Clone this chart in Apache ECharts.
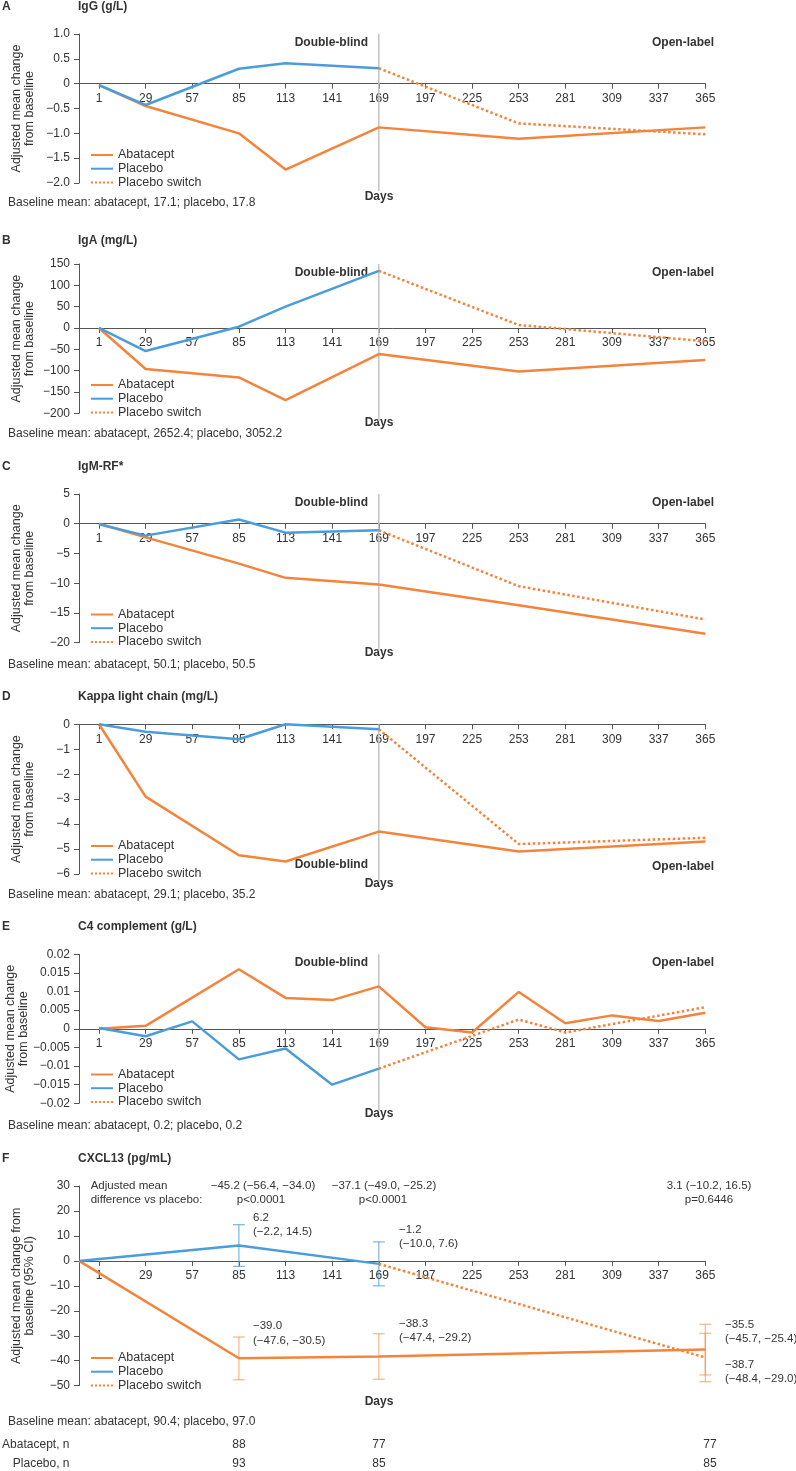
<!DOCTYPE html>
<html><head><meta charset="utf-8">
<script src="https://cdn.jsdelivr.net/npm/echarts@6/dist/echarts.min.js"></script>
<style>html,body{margin:0;padding:0;background:#fff}#c{width:796px;height:1471px}</style>
</head><body><div id="c"></div>
<script>
// ---------------- DATA ----------------
const dayTicks = [1,29,57,85,113,141,169,197,225,253,281,309,337,365];
const seriesNames = ['Abatacept','Placebo','Placebo switch'];

// A  IgG (g/L)
const igG_abatacept = [[1,-0.03],[29,-0.45],[85,-1.0],[113,-1.73],[169,-0.88],[253,-1.11],[365,-0.88]];
const igG_placebo   = [[1,-0.03],[29,-0.43],[85,0.30],[113,0.41],[169,0.31]];
const igG_switch    = [[169,0.31],[253,-0.80],[365,-1.02]];
// B  IgA (mg/L)
const igA_abatacept = [[1,0],[29,-96],[85,-116],[113,-169],[169,-61],[253,-102],[365,-75]];
const igA_placebo   = [[1,0],[29,-54],[85,3],[113,50],[169,134]];
const igA_switch    = [[169,134],[253,7],[365,-31]];
// C  IgM-RF*
const igM_abatacept = [[1,0],[29,-2.3],[85,-6.7],[113,-9.1],[169,-10.2],[253,-13.7],[365,-18.5]];
const igM_placebo   = [[1,-0.1],[29,-2.0],[85,0.7],[113,-1.5],[169,-1.1]];
const igM_switch    = [[169,-1.1],[253,-10.5],[365,-16.1]];
// D  Kappa light chain (mg/L)
const kappa_abatacept = [[1,0],[29,-2.9],[85,-5.25],[113,-5.5],[169,-4.3],[253,-5.1],[365,-4.7]];
const kappa_placebo   = [[1,0],[29,-0.3],[85,-0.6],[113,0],[169,-0.2]];
const kappa_switch    = [[169,-0.2],[253,-4.8],[365,-4.55]];
// E  C4 complement (g/L)
const c4_abatacept = [[1,0],[29,0.0008],[85,0.016],[113,0.0083],[141,0.0077],[169,0.0114],[197,0.0004],[225,-0.001],[253,0.0099],[281,0.0015],[309,0.0036],[337,0.0021],[365,0.0043]];
const c4_placebo   = [[1,0.0002],[29,-0.002],[57,0.002],[85,-0.0082],[113,-0.0053],[141,-0.015],[169,-0.0107]];
const c4_switch    = [[169,-0.0107],[253,0.0025],[281,-0.001],[365,0.0058]];
// F  CXCL13 (pg/mL)  (first point at the axis origin)
const cx_abatacept = [[-11,0],[85,-39.0],[169,-38.3],[365,-35.5]];
const cx_placebo   = [[-11,0],[85,6.2],[169,-1.2]];
const cx_switch    = [[169,-1.2],[365,-38.7]];
// 95% CI  [day, upper, lower]
const cx_abatacept_ci = [[85,-30.5,-47.6],[169,-29.2,-47.4],[365,-25.4,-45.7]];
const cx_placebo_ci   = [[85,14.5,-2.2],[169,7.6,-10.0]];
const cx_switch_ci    = [[365,-29.0,-48.4]];
// n at risk
const nDays = [85,169,365];
const nAbatacept = [88,77,77];
const nPlacebo = [93,85,85];

// y tick labels
const yTicksA = ['−2.0','−1.5','−1.0','−0.5','0','0.5','1.0'];
const yTicksB = ['−200','−150','−100','−50','0','50','100','150'];
const yTicksC = ['−20','−15','−10','−5','0','5'];
const yTicksD = ['−6','−5','−4','−3','−2','−1','0'];
const yTicksE = ['−0.02','−0.015','−0.01','−0.005','0','0.005','0.01','0.015','0.02'];
const yTicksF = ['−50','−40','−30','−20','−10','0','10','20','30'];

// ---------------- STYLE / LAYOUT ----------------
const FONT = '"Liberation Sans", Arial, Helvetica, sans-serif';
const FS = 12;
const TXT = '#333333';
const AX = '#555555';
const ORANGE = '#F4843C';
const BLUE = '#4A9DDA';
const GREYLINE = '#C4C4C4';

const panels = [
  {letter:'A', title:'IgG (g/L)', titleY:7, top:34, height:149, min:-2, max:1, interval:0.5, ticks:yTicksA,
   data:[igG_abatacept, igG_placebo, igG_switch], legendTop:148.5, nameGap:43, yname:'Adjusted mean change\nfrom baseline',
   daysY:197, baseY:203, baseline:'Baseline mean: abatacept, 17.1; placebo, 17.8', phaseY:43, phaseY2:43, vline:true},
  {letter:'B', title:'IgA (mg/L)', titleY:241, top:264, height:149.3, min:-200, max:150, interval:50, ticks:yTicksB,
   data:[igA_abatacept, igA_placebo, igA_switch], legendTop:378.5, nameGap:43, yname:'Adjusted mean change\nfrom baseline',
   daysY:423, baseY:434, baseline:'Baseline mean: abatacept, 2652.4; placebo, 3052.2', phaseY:273, phaseY2:273, vline:true},
  {letter:'C', title:'IgM-RF*', titleY:467, top:494, height:148.7, min:-20, max:5, interval:5, ticks:yTicksC,
   data:[igM_abatacept, igM_placebo, igM_switch], legendTop:608, nameGap:43, yname:'Adjusted mean change\nfrom baseline',
   daysY:653, baseY:665, baseline:'Baseline mean: abatacept, 50.1; placebo, 50.5', phaseY:503, phaseY2:503, vline:true},
  {letter:'D', title:'Kappa light chain (mg/L)', titleY:697, top:724.3, height:149.7, min:-6, max:0, interval:1, ticks:yTicksD,
   data:[kappa_abatacept, kappa_placebo, kappa_switch], legendTop:839.5, nameGap:43, yname:'Adjusted mean change\nfrom baseline',
   daysY:884, baseY:895, baseline:'Baseline mean: abatacept, 29.1; placebo, 35.2', phaseY:865, phaseY2:867, vline:true},
  {letter:'E', title:'C4 complement (g/L)', titleY:927, top:954.3, height:149, min:-0.02, max:0.02, interval:0.005, ticks:yTicksE,
   data:[c4_abatacept, c4_placebo, c4_switch], legendTop:1068, nameGap:49, yname:'Adjusted mean change\nfrom baseline',
   daysY:1114, baseY:1126, baseline:'Baseline mean: abatacept, 0.2; placebo, 0.2', phaseY:963, phaseY2:963, vline:true},
  {letter:'F', title:'CXCL13 (pg/mL)', titleY:1159, top:1186, height:199.7, min:-50, max:30, interval:10, ticks:yTicksF,
   data:[cx_abatacept, cx_placebo, cx_switch], legendTop:1351.5, nameGap:43, yname:'Adjusted mean change from\nbaseline (95% CI)',
   daysY:1402, baseY:1422, baseline:'Baseline mean: abatacept, 90.4; placebo, 97.0', vline:false}
];

const GRID_LEFT = 79, GRID_RIGHT = 796 - 705.3;

const grid = [], xAxis = [], yAxis = [], series = [], legend = [], graphic = [];

function txt(x, y, text, opts) {
  opts = opts || {};
  const align = opts.align || 'left';
  graphic.push({type:'text', x:x, y:y, silent:true, style:{
    text:text, fill:opts.color || TXT,
    font:(opts.bold ? 'bold ' : '') + (opts.size || FS) + 'px ' + FONT,
    textAlign:align, align:align, textVerticalAlign:'middle', verticalAlign:'middle'
  }});
}

panels.forEach((p, i) => {
  grid.push({left:GRID_LEFT, right:GRID_RIGHT, top:p.top, height:p.height, containLabel:false, outerBoundsMode:'none'});
  // x axis drawn on the zero line of the y scale
  const zeroOffset = -p.height * (0 - p.min) / (p.max - p.min);
  xAxis.push({gridIndex:i, type:'value', min:-11, max:365, position:'bottom', offset:zeroOffset,
    axisLine:{show:true, onZero:false, lineStyle:{color:AX, width:1}},
    axisTick:{show:true, customValues:dayTicks, length:5, lineStyle:{color:AX, width:1}},
    axisLabel:{show:true, customValues:dayTicks, margin:9, fontSize:FS, color:TXT, fontFamily:FONT, hideOverlap:false},
    splitLine:{show:false}});
  const ticks = p.ticks, mn = p.min, iv = p.interval;
  yAxis.push({gridIndex:i, type:'value', min:p.min, max:p.max, interval:p.interval,
    axisLine:{show:true, onZero:false, lineStyle:{color:AX, width:1}},
    axisTick:{show:true, length:5, lineStyle:{color:AX, width:1}},
    axisLabel:{show:true, margin:9, fontSize:FS, color:TXT, fontFamily:FONT, hideOverlap:false,
      formatter:(v) => ticks[Math.round((v - mn) / iv)]},
    splitLine:{show:false},
    name:p.yname, nameLocation:'middle', nameGap:p.nameGap, nameRotate:90, nameMoveOverlap:false,
    nameTextStyle:{fontSize:12.5, lineHeight:13, color:TXT, fontFamily:FONT}});

  const colors = [ORANGE, BLUE, ORANGE];
  const types = ['solid','solid','dotted'];
  p.data.forEach((d, k) => {
    series.push({type:'line', name:seriesNames[k], xAxisIndex:i, yAxisIndex:i, data:d,
      symbol:'circle', symbolSize:0, showSymbol:false, clip:false, z:3 + k,
      lineStyle:{color:colors[k], width:2.5, type:types[k]}, itemStyle:{color:colors[k]}});
  });

  if (p.vline) {
    series.push({type:'custom', xAxisIndex:i, yAxisIndex:i, data:[[169, 0]], z:1, silent:true,
      encode:{x:0, y:1},
      renderItem:(params, api) => {
        const pt = api.coord([api.value(0), api.value(1)]);
        const cs = params.coordSys;
        return {type:'line', shape:{x1:pt[0], y1:cs.y, x2:pt[0], y2:cs.y + cs.height + 8},
          style:{stroke:GREYLINE, lineWidth:1.5}};
      }});
    txt(368, p.phaseY, 'Double-blind', {align:'right', bold:true});
    txt(714, p.phaseY2, 'Open-label', {align:'right', bold:true});
  }

  legend.push({data:seriesNames, orient:'vertical', left:90, top:p.legendTop, padding:0,
    itemWidth:22, itemHeight:13, itemGap:0.7, selectedMode:false,
    itemStyle:{opacity:0},
    textStyle:{fontSize:12.5, color:TXT, fontFamily:FONT, lineHeight:13}});

  txt(2, p.titleY, p.letter, {bold:true});
  txt(78, p.titleY, p.title, {bold:true});
  txt(379, p.daysY, 'Days', {align:'center', bold:true});
  txt(8, p.baseY, p.baseline);
});

// error bars (panel F)
function errSeries(data, color) {
  return {type:'custom', xAxisIndex:5, yAxisIndex:5, data:data, z:2, silent:true,
    encode:{x:0, y:[1,2]},
    renderItem:(params, api) => {
      const x = api.value(0);
      const p1 = api.coord([x, api.value(1)]), p2 = api.coord([x, api.value(2)]);
      const w = 6, st = {stroke:color, lineWidth:1.2};
      return {type:'group', children:[
        {type:'line', shape:{x1:p1[0], y1:p1[1], x2:p2[0], y2:p2[1]}, style:st},
        {type:'line', shape:{x1:p1[0]-w, y1:p1[1], x2:p1[0]+w, y2:p1[1]}, style:st},
        {type:'line', shape:{x1:p2[0]-w, y1:p2[1], x2:p2[0]+w, y2:p2[1]}, style:st}
      ]};
    }};
}
series.push(errSeries(cx_placebo_ci, 'rgba(74,157,218,0.75)'));
series.push(errSeries(cx_abatacept_ci, 'rgba(244,132,60,0.6)'));
series.push(errSeries(cx_switch_ci, 'rgba(244,132,60,0.6)'));

// panel F annotations
const AS = 11.5;
txt(90.7, 1186, 'Adjusted mean', {size:AS});
txt(90.7, 1199.5, 'difference vs placebo:', {size:AS});
txt(263, 1186, '−45.2 (−56.4, −34.0)', {align:'center', size:AS});
txt(261, 1199.5, 'p<0.0001', {align:'center', size:AS});
txt(384, 1186, '−37.1 (−49.0, −25.2)', {align:'center', size:AS});
txt(383, 1199.5, 'p<0.0001', {align:'center', size:AS});
txt(709, 1186, '3.1 (−10.2, 16.5)', {align:'center', size:AS});
txt(709, 1199.5, 'p=0.6446', {align:'center', size:AS});

txt(253, 1218, '6.2', {size:AS});
txt(253, 1232, '(−2.2, 14.5)', {size:AS});
txt(399, 1230, '−1.2', {size:AS});
txt(399, 1244, '(−10.0, 7.6)', {size:AS});
txt(253, 1326, '−39.0', {size:AS});
txt(253, 1340.5, '(−47.6, −30.5)', {size:AS});
txt(399, 1324, '−38.3', {size:AS});
txt(399, 1338, '(−47.4, −29.2)', {size:AS});
txt(725, 1325, '−35.5', {size:AS});
txt(725, 1338.5, '(−45.7, −25.4)', {size:AS});
txt(725, 1365, '−38.7', {size:AS});
txt(725, 1379, '(−48.4, −29.0)', {size:AS});

// n table
txt(69.5, 1445, 'Abatacept, n', {align:'right'});
txt(69.5, 1464, 'Placebo, n', {align:'right'});
const nX = [239, 379, 710];
nDays.forEach((d, j) => {
  txt(nX[j], 1445, String(nAbatacept[j]), {align:'center'});
  txt(nX[j], 1464, String(nPlacebo[j]), {align:'center'});
});

const chart = echarts.init(document.getElementById('c'), null, {renderer:'canvas'});
chart.setOption({animation:false, backgroundColor:'#ffffff', textStyle:{fontFamily:FONT},
  grid, xAxis, yAxis, series, legend, graphic});
</script></body></html>
